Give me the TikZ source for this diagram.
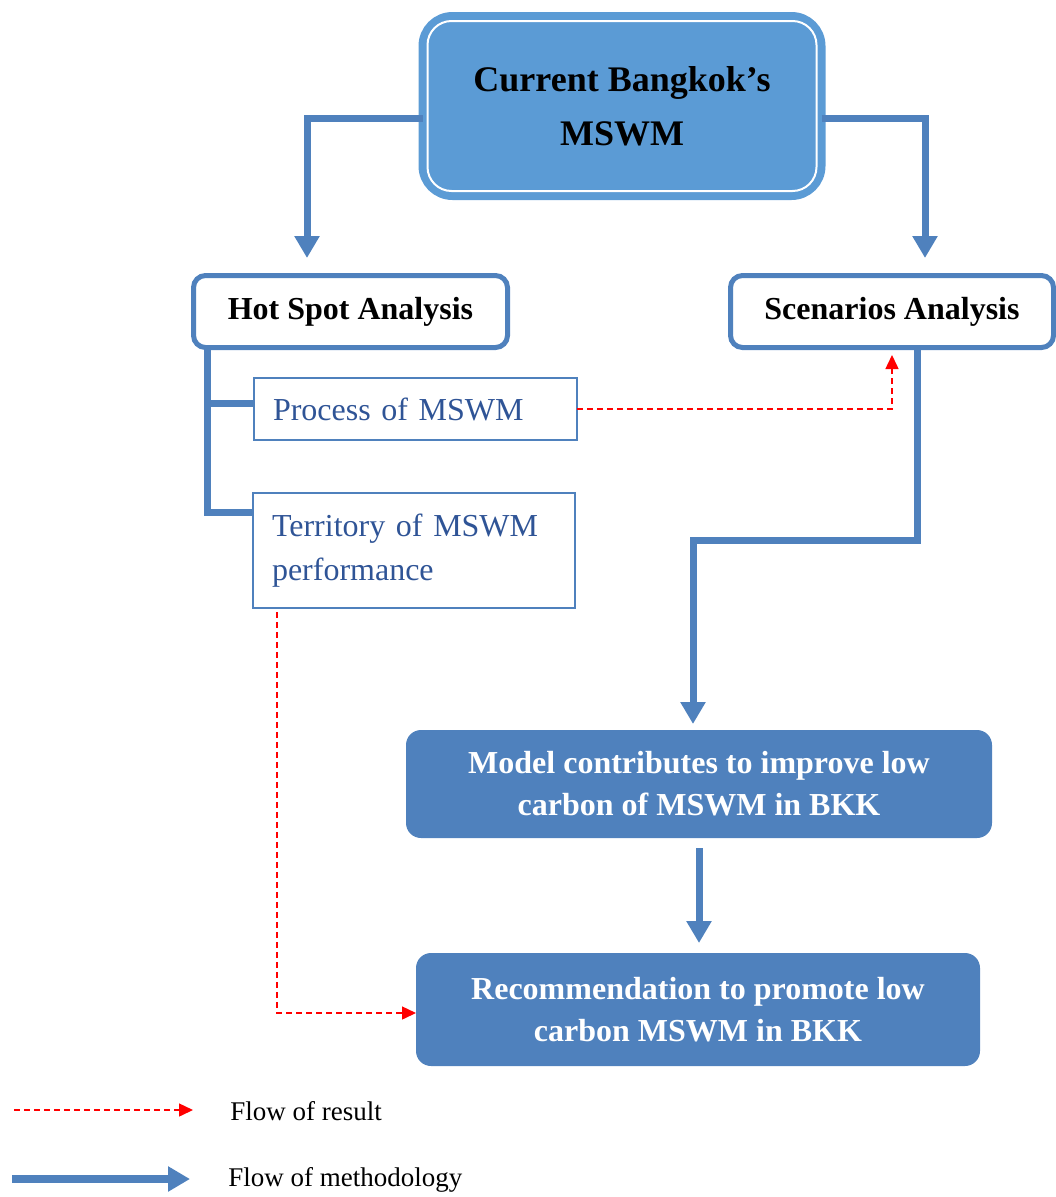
\documentclass[tikz,border=0pt]{standalone}
\usepackage{fontspec}
\setmainfont{Liberation Serif}
\usetikzlibrary{arrows.meta}
\definecolor{topfill}{RGB}{91,155,213}
\definecolor{flowblue}{RGB}{79,129,189}
\definecolor{subtext}{RGB}{47,84,150}
\definecolor{resred}{RGB}{255,0,0}

\begin{document}
\begin{tikzpicture}[x=1pt,y=-1pt,
  every node/.style={outer sep=0pt},
  topbox/.style={rounded corners=30pt, fill=topfill, draw=topfill, line width=8pt,
    minimum width=399pt, minimum height=180pt, align=center,
    font=\bfseries\fontsize{36}{54}\selectfont},
  headbox/.style={draw=flowblue, line width=5pt, rounded corners=12pt, fill=white,
    minimum height=72pt, font=\bfseries\fontsize{32}{38}\selectfont},
  subbox/.style={draw=flowblue, line width=1.5pt, text=subtext, align=left,
    inner xsep=19pt, inner ysep=0pt, font=\fontsize{32}{44}\selectfont},
  resbox/.style={fill=flowblue, rounded corners=15pt, text=white, align=center,
    font=\bfseries\fontsize{32}{42}\selectfont},
  method/.style={draw=flowblue, line width=7pt,
    -{Triangle[width=24pt,length=22pt]}},
  result/.style={draw=resred, line width=1.5pt, dash pattern=on 6pt off 4pt,
    -{Triangle[width=13pt,length=14pt]}},
  legendtext/.style={anchor=base west, font=\fontsize{27}{32}\selectfont}]

\useasboundingbox (0,0) rectangle (1056,1197);

% boxes
\node[topbox] (top) at (622,106) {Current Bangkok’s\\MSWM};
\draw[white, line width=2pt, rounded corners=24pt]
  ([xshift=5pt,yshift=-5pt]top.north west) rectangle ([xshift=-5pt,yshift=5pt]top.south east);

\node[headbox, minimum width=314pt] (hot) at (350.5,311.5) {Hot Spot Analysis};
\node[headbox, minimum width=323pt] (scen) at (892,311.5) {Scenarios Analysis};

\node[subbox, text width=285pt, minimum height=62pt] (proc) at (415.5,409) {Process of MSWM};
\node[subbox, text width=284pt, minimum height=115pt] (terr) at (414,550.5)
  {Territory of MSWM\\performance};

\node[resbox, minimum width=586pt, minimum height=108pt] (model) at (699,784)
  {Model contributes to improve low\\carbon of MSWM in BKK};
\node[resbox, minimum width=564pt, minimum height=113pt] (rec) at (698,1009.5)
  {Recommendation to promote low\\carbon MSWM in BKK};

% methodology flow
\coordinate (hotin) at (307,258);
\coordinate (scenin) at (925,258);
\draw[method] ([yshift=-12pt]top.west) -| (hotin);
\draw[method] ([yshift=-12pt]top.east) -| (scenin);

\coordinate (br1) at (207,403);
\coordinate (br2) at (207,512);
\draw[flowblue, line width=7pt] (hot.south -| br1) -- (br2) -- (br2 -| terr.west);
\draw[flowblue, line width=7pt] (br1) -- (br1 -| proc.west);

\coordinate (elbow) at (917,540);
\coordinate (modin) at (693,724);
\draw[method] (scen.south -| elbow) -- (elbow) -| (modin);

\draw[method, shorten <=10pt, shorten >=10pt] (model.south) -- (model.south |- rec.north);

% result flow
\coordinate (scenres) at (892,355);
\draw[result] (proc.east) -| (scenres);
\coordinate (drop) at (277,1013);
\draw[result] ([yshift=-4pt]terr.south -| drop) -- (drop) -- (drop -| rec.west);

% legend
\coordinate (lr1) at (14,1110);
\coordinate (lr2) at (193,1110);
\draw[result] (lr1) -- (lr2);
\node[legendtext] (lrtext) at (227,1120) {Flow of result};
\coordinate (lm1) at (12,1179);
\coordinate (lm2) at (190,1179);
\draw[method, line width=8pt] (lm1) -- (lm2);
\node[legendtext] (lmtext) at (225,1186) {Flow of methodology};
\end{tikzpicture}
\end{document}
